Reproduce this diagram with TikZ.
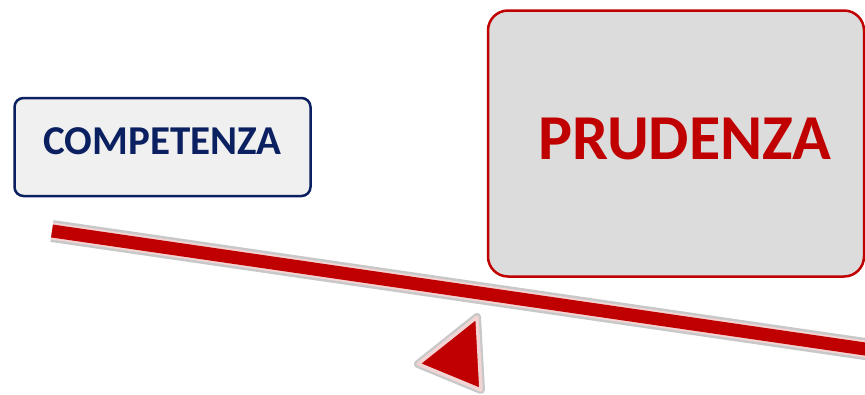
\documentclass[tikz,border=0pt]{standalone}
\usepackage{fontspec}
\setmainfont{Carlito}
\definecolor{navy}{HTML}{0B2060}
\definecolor{dred}{HTML}{C00000}
\definecolor{lightfill}{HTML}{F0F0F0}
\definecolor{greyfill}{HTML}{DCDCDC}
\definecolor{haloGrey}{HTML}{C8C8C8}
\definecolor{haloPink}{HTML}{F2D4D4}
\tikzset{
  smallbox/.style={draw=navy, line width=2.5pt, fill=lightfill, rounded corners=9pt,
    minimum width=296pt, minimum height=98pt, inner sep=0pt, text depth=11pt,
    text=navy, font=\bfseries\fontsize{41}{46}\selectfont},
  bigbox/.style={draw=dred, line width=2.5pt, fill=greyfill, rounded corners=20pt,
    minimum width=376pt, minimum height=266pt, inner sep=0pt, text depth=9pt,
    text=dred, font=\bfseries\fontsize{64}{72}\selectfont},
}
\begin{document}
\begin{tikzpicture}[x=1pt,y=-1pt]
\useasboundingbox (0,0) rectangle (865,394);
\node[smallbox] (comp) at (162.5,147) {COMPETENZA};
\node[bigbox] (prud) at (676,143.5) {\hspace*{18pt}PRUDENZA};
% beam
\coordinate (bl) at (52,231);
\coordinate (br) at (872,350);
\draw[haloGrey, line width=22pt] (bl) -- (br);
\draw[haloPink, line width=17pt] (bl) -- (br);
\draw[dred, line width=13pt] (bl) -- (br);
% fulcrum
\coordinate (t1) at (477,317);
\coordinate (t2) at (418,364);
\coordinate (t3) at (481,390);
\draw[haloGrey, line width=8pt, line join=round, fill=dred] (t1) -- (t2) -- (t3) -- cycle;
\draw[haloPink, line width=3.5pt, line join=round, fill=dred] (t1) -- (t2) -- (t3) -- cycle;
\end{tikzpicture}
\end{document}
